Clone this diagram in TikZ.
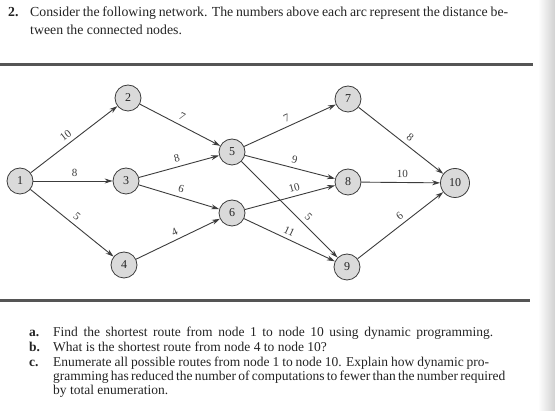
\documentclass[tikz,border=0pt]{standalone}
\usepackage{fontspec}
\setmainfont{Liberation Serif}
\usetikzlibrary{arrows.meta}
\definecolor{ink}{HTML}{3C3C3C}
\definecolor{nodefill}{HTML}{DADADA}
\definecolor{rulecol}{HTML}{555555}
\definecolor{textcol}{HTML}{242424}
\begin{document}
\begin{tikzpicture}[x=1pt,y=-1pt,
  nd/.style={circle,draw=ink,fill=nodefill,line width=0.8pt,minimum size=26pt,inner sep=0pt,font=\fontsize{12}{14}\selectfont,text=textcol},
  arc/.style={draw=ink,line width=0.9pt,-{Stealth[length=8pt,width=5pt]}},
  lbl/.style={font=\fontsize{11}{13}\selectfont,text=ink,sloped,above,inner sep=4pt},
  txt/.style={anchor=base west,inner sep=0pt,font=\fontsize{13.5}{16}\selectfont,text=textcol},
  itxt/.style={anchor=base west,inner sep=0pt,font=\fontsize{13.8}{16}\selectfont,text=textcol},
  rulestyle/.style={draw=rulecol,line width=3pt}]
\useasboundingbox (0,0) rectangle (555,411);
\fill[white] (0,0) rectangle (555,411);
\shade[left color=white,right color=black!18] (538,0) rectangle (555,411);

% header text
\node[itxt] (q2) at (8,17) {\textbf{2.}};
\node[itxt] (l1) at (30,17) {\makebox[478pt][s]{Consider the following network. The numbers above each arc represent the distance be-}};
\node[itxt] (l2) at (30,35) {tween the connected nodes.};

% rules
\coordinate (r1a) at (0,65); \coordinate (r1b) at (533,65);
\coordinate (r2a) at (0,301); \coordinate (r2b) at (530,301);
\draw[rulestyle] (r1a) -- (r1b);
\draw[rulestyle] (r2a) -- (r2b);

% nodes
\node[nd] (n1) at (20,181) {1};
\node[nd] (n2) at (128,98) {2};
\node[nd] (n3) at (126,181) {3};
\node[nd] (n4) at (124,265) {4};
\node[nd] (n5) at (232,152) {5};
\node[nd] (n6) at (232,213) {6};
\node[nd] (n7) at (348,99) {7};
\node[nd] (n8) at (348,182) {8};
\node[nd] (n9) at (347,267) {9};
\node[nd,minimum size=29pt] (n10) at (455,183) {10};

% arcs
\draw[arc] (n1) -- node[lbl,pos=0.46]{10} (n2);
\draw[arc] (n1) -- node[lbl,pos=0.52]{8} (n3);
\draw[arc] (n1) -- node[lbl,pos=0.5]{5} (n4);
\draw[arc] (n2) -- node[lbl,pos=0.48]{7} (n5);
\draw[arc] (n3) -- node[lbl,pos=0.5]{8} (n5);
\draw[arc] (n3) -- node[lbl,pos=0.5]{6} (n6);
\draw[arc] (n4) -- node[lbl,pos=0.5]{4} (n6);
\draw[arc] (n5) -- node[lbl,pos=0.5]{7} (n7);
\draw[arc] (n5) -- node[lbl,pos=0.53]{9} (n8);
\draw[arc] (n6) -- node[lbl,pos=0.57]{10} (n8);
\draw[arc] (n5) -- node[lbl,pos=0.64]{5} (n9);
\draw[arc] (n6) -- node[lbl,pos=0.46]{11} (n9);
\draw[arc] (n7) -- node[lbl,pos=0.55]{8} (n10);
\draw[arc] (n8) -- node[lbl,pos=0.52]{10} (n10);
\draw[arc] (n9) -- node[lbl,pos=0.55]{6} (n10);

% questions
\node[txt] (qa) at (29,337) {\textbf{a.}};
\node[txt] (ta) at (53,337) {\makebox[440pt][s]{Find the shortest route from node 1 to node 10 using dynamic programming.}};
\node[txt] (qb) at (29,352) {\textbf{b.}};
\node[txt] (tb) at (53,352) {What is the shortest route from node 4 to node 10?};
\node[txt] (qc) at (29,367) {\textbf{c.}};
\node[txt] (tc1) at (53,367) {\makebox[436pt][s]{Enumerate all possible routes from node 1 to node 10. Explain how dynamic pro-}};
\node[txt] (tc2) at (53,381) {\makebox[438pt][s]{gramming has reduced the number of computations to fewer than the number required}};
\node[txt] (tc3) at (53,395) {by total enumeration.};
\end{tikzpicture}
\end{document}
